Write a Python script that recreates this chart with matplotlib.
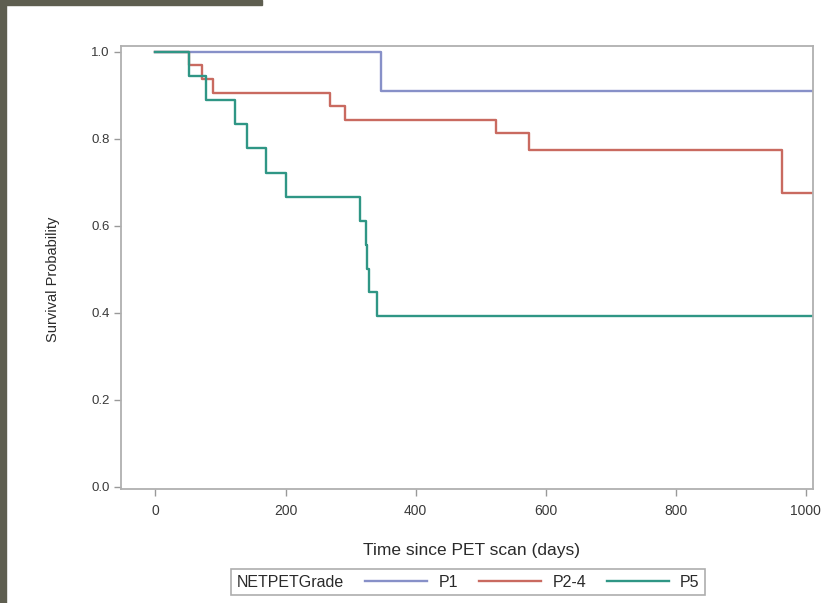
import matplotlib
matplotlib.use('Agg')
import matplotlib.pyplot as plt
from matplotlib.patches import Rectangle

plt.rcParams['font.family'] = ['Liberation Sans', 'DejaVu Sans']

# Kaplan-Meier step data
groups = ['P1', 'P2-4', 'P5']
timesP1 = [0, 347, 1010]
survP1 = [1.0, 0.909, 0.909]
timesP24 = [0, 52, 72, 89, 268, 292, 523, 574, 963, 1010]
survP24 = [1.0, 0.969, 0.938, 0.906, 0.875, 0.844, 0.813, 0.775, 0.676, 0.676]
timesP5 = [0, 52, 78, 123, 141, 170, 200, 314, 323, 326, 329, 340, 1010]
survP5 = [1.0, 0.944, 0.889, 0.833, 0.778, 0.722, 0.667, 0.611, 0.556, 0.5, 0.448, 0.392, 0.392]
colors = ['#8790c8', '#c96a60', '#2f9685']

xticks = [0, 200, 400, 600, 800, 1000]
yticks = [0.0, 0.2, 0.4, 0.6, 0.8, 1.0]

fig = plt.figure(figsize=(8.23, 6.03), dpi=100)
ax = fig.add_axes([121/823, 1 - 489/603, 692/823, 443/603])

series = [(timesP1, survP1), (timesP24, survP24), (timesP5, survP5)]
for (t, s), name, c in zip(series, groups, colors):
    ax.plot(t, s, drawstyle='steps-post', color=c, lw=1.7, label=name)

ax.set_xlim(-53, 1011)
ax.set_ylim(-0.005, 1.013)
ax.set_xticks(xticks)
ax.set_yticks(yticks)
ax.set_yticklabels(['%.1f' % v for v in yticks])

for sp in ax.spines.values():
    sp.set_color('#b0b0b0')
    sp.set_linewidth(1.3)
ax.tick_params(axis='both', direction='out', length=5, width=1, color='#999999',
               labelcolor='#3a3a3a')
ax.tick_params(axis='x', labelsize=10, pad=6)
ax.tick_params(axis='y', labelsize=9.5, pad=3)

ax.set_xlabel('Time since PET scan (days)', fontsize=12.5, color='#2a2a2a')
ax.set_ylabel('Survival Probability', fontsize=10.5, color='#2a2a2a')
ax.xaxis.set_label_coords(0.506, -0.122)
ax.yaxis.set_label_coords(-0.088, 0.474)

leg = ax.legend(loc='center', bbox_to_anchor=(0.502, -0.21), ncol=3,
                title='NETPETGrade', fontsize=11.5, title_fontsize=11.5,
                handlelength=3.9, handletextpad=0.7, columnspacing=1.3,
                frameon=True, fancybox=False, edgecolor='#999999', borderpad=0.35)
leg.get_frame().set_linewidth(1.2)
# put the title on the same row as the entries
box = leg.get_children()[0]
title_box = box.get_children()[0]
hpack = box.get_children()[1]
box._children = [hpack]
hpack._children = [title_box] + hpack.get_children()
for txt in leg.get_texts():
    txt.set_color('#2a2a2a')
leg.get_title().set_color('#2a2a2a')

# dark frame strips on the left and top of the picture
fig.patches.append(Rectangle((0, 0), 6/823, 1, transform=fig.transFigure,
                             color='#5e5e50', zorder=0))
fig.patches.append(Rectangle((0, 1 - 5/603), 262/823, 5/603, transform=fig.transFigure,
                             color='#5e5e50', zorder=0))

fig.savefig('out.png', dpi=100)
